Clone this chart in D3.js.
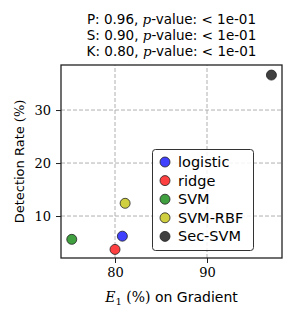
<!DOCTYPE html>
<html>
<head>
<meta charset="utf-8">
<script src="https://cdn.jsdelivr.net/npm/d3@7"></script>
<style>
  body { margin: 0; background: #fff; }
  svg text { fill: #000; }
</style>
</head>
<body>
<div id="chart"></div>
<script>
// data
var models = ['logistic', 'ridge', 'SVM', 'SVM-RBF', 'Sec-SVM'];
var e1Gradient = [80.8, 80.0, 75.3, 81.1, 97.0];
var detectionRate = [6.2, 3.7, 5.6, 12.4, 36.6];
var colors = ['#4040ff', '#ff4040', '#40a040', '#cfcf40', '#404040'];
var xTicks = [80, 90];
var yTicks = [10, 20, 30];
var titleLines = [['P', '0.96'], ['S', '0.90'], ['K', '0.80']];

var width = 299,
    height = 319,
    margin = { top: 65, right: 17, bottom: 61, left: 61 };

var sans = '"DejaVu Sans", "Liberation Sans", sans-serif';
var serif = '"DejaVu Serif", "Liberation Serif", serif';

var svg = d3.select('#chart').append('svg')
    .attr('width', width)
    .attr('height', height);

var x = d3.scaleLinear().domain([74.13, 98.15])
    .range([margin.left, width - margin.right]);
var y = d3.scaleLinear().domain([2.08, 38.5])
    .range([height - margin.bottom, margin.top]);

// grid
svg.append('g')
    .selectAll('line.gx')
    .data(xTicks)
    .enter().append('line')
    .attr('x1', d => x(d)).attr('x2', d => x(d))
    .attr('y1', y.range()[0]).attr('y2', y.range()[1])
    .attr('stroke', '#b0b0b0').attr('stroke-width', 1)
    .attr('stroke-dasharray', '4,2');
svg.append('g')
    .selectAll('line.gy')
    .data(yTicks)
    .enter().append('line')
    .attr('y1', d => y(d)).attr('y2', d => y(d))
    .attr('x1', x.range()[0]).attr('x2', x.range()[1])
    .attr('stroke', '#b0b0b0').attr('stroke-width', 1)
    .attr('stroke-dasharray', '4,2');

// axes
var xAxis = svg.append('g')
    .attr('transform', `translate(0,${height - margin.bottom})`)
    .call(d3.axisBottom(x).tickValues(xTicks).tickSize(5).tickPadding(5).tickSizeOuter(0));
var yAxis = svg.append('g')
    .attr('transform', `translate(${margin.left},0)`)
    .call(d3.axisLeft(y).tickValues(yTicks).tickSize(5).tickPadding(5).tickSizeOuter(0));
[xAxis, yAxis].forEach(function(a) {
    a.select('.domain').remove();
    a.selectAll('.tick line').attr('stroke', '#222').attr('stroke-width', 1);
    a.selectAll('.tick text')
        .style('font-family', serif)
        .style('font-size', '13px')
        .attr('fill', '#222');
});

// frame
svg.append('rect')
    .attr('x', x.range()[0]).attr('y', y.range()[1])
    .attr('width', x.range()[1] - x.range()[0])
    .attr('height', y.range()[0] - y.range()[1])
    .attr('fill', 'none').attr('stroke', '#222').attr('stroke-width', 1.3);

// points
svg.append('g')
    .selectAll('circle')
    .data(models)
    .enter().append('circle')
    .attr('cx', (d, i) => x(e1Gradient[i]))
    .attr('cy', (d, i) => y(detectionRate[i]))
    .attr('r', 5)
    .attr('fill', (d, i) => colors[i])
    .attr('stroke', '#222')
    .attr('stroke-width', 0.8);

// legend
var leg = svg.append('g');
leg.append('rect')
    .attr('x', 152.5).attr('y', 149.5)
    .attr('width', 101).attr('height', 101)
    .attr('rx', 3)
    .attr('fill', '#fff').attr('fill-opacity', 0.85)
    .attr('stroke', '#333').attr('stroke-width', 1);
var items = leg.selectAll('g.item')
    .data(models)
    .enter().append('g')
    .attr('transform', (d, i) => `translate(165,${162 + i * 18.6})`);
items.append('circle')
    .attr('r', 5)
    .attr('fill', (d, i) => colors[i])
    .attr('stroke', '#222').attr('stroke-width', 0.8);
items.append('text')
    .attr('x', 13).attr('dy', '0.35em')
    .style('font-family', sans).style('font-size', '14.5px')
    .text(d => d);

// title
var cx = (x.range()[0] + x.range()[1]) / 2;
var title = svg.append('g');
titleLines.forEach(function(t, i) {
    var line = title.append('text')
        .attr('x', cx).attr('y', 24 + i * 16)
        .attr('text-anchor', 'middle')
        .style('font-family', sans).style('font-size', '13.5px');
    line.append('tspan').text(t[0] + ': ' + t[1] + ', ');
    line.append('tspan').style('font-family', serif).style('font-style', 'italic').text('p');
    line.append('tspan').text('-value: ');
    line.append('tspan').style('font-family', serif).text('<');
    line.append('tspan').text(' 1e-01');
});

// axis labels
var xl = svg.append('text')
    .attr('x', cx).attr('y', 302)
    .attr('text-anchor', 'middle')
    .style('font-family', sans).style('font-size', '14px');
xl.append('tspan').style('font-family', serif).style('font-style', 'italic').text('E');
xl.append('tspan').style('font-family', serif).style('font-size', '10px').attr('dy', 3).text('1');
xl.append('tspan').style('font-family', serif).attr('dy', -3).text(' (%)');
xl.append('tspan').text(' on Gradient');

var yl = svg.append('text')
    .attr('transform', `translate(24,${(y.range()[0] + y.range()[1]) / 2}) rotate(-90)`)
    .attr('text-anchor', 'middle')
    .style('font-family', sans).style('font-size', '13px');
yl.append('tspan').text('Detection Rate ');
yl.append('tspan').style('font-family', serif).text('(%)');
</script>
</body>
</html>
